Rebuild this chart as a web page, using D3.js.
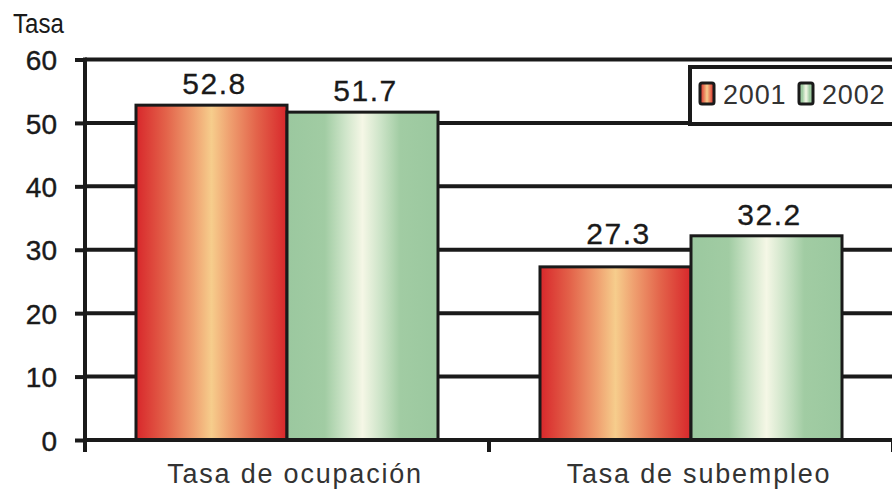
<!DOCTYPE html>
<html><head><meta charset="utf-8">
<script src="https://cdn.jsdelivr.net/npm/d3@7"></script>
<style>body{margin:0;background:#fff}svg{display:block;font-family:"Liberation Sans",Arial,sans-serif}</style>
</head><body><svg id="c" width="892" height="490"></svg>
<script>
const categories = ["Tasa de ocupación", "Tasa de subempleo"];
const years = ["2001", "2002"];
const values2001 = [52.8, 27.3];
const values2002 = [51.7, 32.2];
const yTicks = [0, 10, 20, 30, 40, 50, 60];
const yTitle = "Tasa";

(function () {
const svg = d3.select("#c");
const W = 892, H = 490;
const pLeft = 85, pRight = 893, pTop = 59.5, pBottom = 440;
const ink = "#1a1a1a";

const y = d3.scaleLinear().domain([0, 60]).range([pBottom, pTop]);
const x0 = d3.scaleBand().domain(categories).range([pLeft, pRight]).padding(0);
const x1 = d3.scaleBand().domain(years).range([0, x0.bandwidth()]).paddingInner(0).paddingOuter(0.3377);

// gradients
const defs = svg.append("defs");
function grad(id, stops) {
  const g = defs.append("linearGradient").attr("id", id).attr("x1", "0%").attr("x2", "100%").attr("y1", "0%").attr("y2", "0%");
  stops.forEach(s => g.append("stop").attr("offset", s[0]).attr("stop-color", s[1]));
}
grad("g2001", [["0%", "#d8272b"], ["20%", "#e3634a"], ["38%", "#efa070"], ["50%", "#f6cd8c"], ["62%", "#efa070"], ["80%", "#e3634a"], ["100%", "#d8272b"]]);
grad("g2002", [["0%", "#9bc89f"], ["25%", "#a1cca3"], ["38%", "#cde4c8"], ["50%", "#f5f7e6"], ["62%", "#cde4c8"], ["75%", "#a1cca3"], ["100%", "#9bc89f"]]);
const fills = {"2001": "url(#g2001)", "2002": "url(#g2002)"};

// gridlines
svg.append("g").selectAll("line").data(yTicks.filter(d => d > 0)).join("line")
  .attr("x1", pLeft).attr("x2", W).attr("y1", d => y(d)).attr("y2", d => y(d))
  .attr("stroke", ink).attr("stroke-width", 4);

// y axis
const yAxis = d3.axisLeft(y).tickValues(yTicks).tickSize(10).tickPadding(18).tickFormat(d3.format("d"));
const ya = svg.append("g").attr("transform", `translate(${pLeft},0)`).call(yAxis);
ya.select(".domain").remove();
ya.selectAll(".tick line").attr("stroke", ink).attr("stroke-width", 4);
ya.selectAll(".tick text").attr("fill", ink).attr("font-size", 28).attr("font-family", "Liberation Sans, Arial, sans-serif").attr("dy", "0.36em")
  .attr("stroke", ink).attr("stroke-width", 0.4);
svg.append("line").attr("x1", pLeft).attr("x2", pLeft).attr("y1", pTop - 2).attr("y2", pBottom + 12)
  .attr("stroke", ink).attr("stroke-width", 4);

// bars
const data = categories.map((c, i) => ({cat: c, vals: [{year: "2001", v: values2001[i]}, {year: "2002", v: values2002[i]}]}));
const gcat = svg.append("g").selectAll("g").data(data).join("g")
  .attr("transform", d => `translate(${x0(d.cat)},0)`);
gcat.selectAll("rect").data(d => d.vals).join("rect")
  .attr("x", d => x1(d.year)).attr("width", x1.bandwidth())
  .attr("y", d => y(d.v)).attr("height", d => y(0) - y(d.v))
  .attr("fill", d => fills[d.year]).attr("stroke", ink).attr("stroke-width", 3);

// labels (shift above a gridline if it would cross the text)
gcat.selectAll("text.v").data(d => d.vals).join("text").attr("class", "v")
  .attr("x", d => x1(d.year) + x1.bandwidth() / 2 + 3)
  .attr("y", d => {
    let b = y(d.v) - 11;
    yTicks.forEach(t => { const gy = y(t); if (gy < b + 2 && gy > b - 24) b = gy - 6; });
    return b;
  })
  .attr("text-anchor", "middle").attr("font-size", 30).attr("letter-spacing", 1.5)
  .attr("fill", ink).attr("stroke", ink).attr("stroke-width", 0.3).text(d => d.v.toFixed(1));

// x axis
svg.append("line").attr("x1", pLeft).attr("x2", W).attr("y1", pBottom).attr("y2", pBottom)
  .attr("stroke", ink).attr("stroke-width", 4);
const xAxis = d3.axisBottom(x0).tickSize(0).tickPadding(0);
const xa = svg.append("g").attr("transform", `translate(0,${pBottom})`).call(xAxis);
xa.select(".domain").remove();
xa.selectAll(".tick line").remove();
xa.selectAll(".tick text").attr("y", 43).attr("dy", 0).attr("dx", 8)
  .attr("font-size", 27).attr("letter-spacing", 1.8).attr("fill", "#333")
  .attr("font-family", "Liberation Sans, Arial, sans-serif");
// category separators
svg.append("g").selectAll("line").data(categories).join("line")
  .attr("x1", d => x0(d) + x0.bandwidth()).attr("x2", d => x0(d) + x0.bandwidth())
  .attr("y1", pBottom).attr("y2", pBottom + 12).attr("stroke", ink).attr("stroke-width", 4);

// y title
svg.append("text").attr("x", 13).attr("y", 33).attr("font-size", 28).attr("fill", ink)
  .attr("transform", "translate(13,33) scale(0.86,1) translate(-13,-33)").text(yTitle);

// legend
const lg = svg.append("g");
lg.append("rect").attr("x", 690).attr("y", 67).attr("width", 260).attr("height", 57)
  .attr("fill", "#fff").attr("stroke", ink).attr("stroke-width", 4);
const lx = [700, 799];
years.forEach((yr, i) => {
  lg.append("rect").attr("x", lx[i]).attr("y", 83).attr("width", 14).attr("height", 21)
    .attr("rx", 2).attr("fill", fills[yr]).attr("stroke", ink).attr("stroke-width", 3);
  lg.append("text").attr("x", lx[i] + 23).attr("y", 104).attr("font-size", 27)
    .attr("letter-spacing", 0.8).attr("fill", "#333").text(yr);
});
})();
</script></body></html>
